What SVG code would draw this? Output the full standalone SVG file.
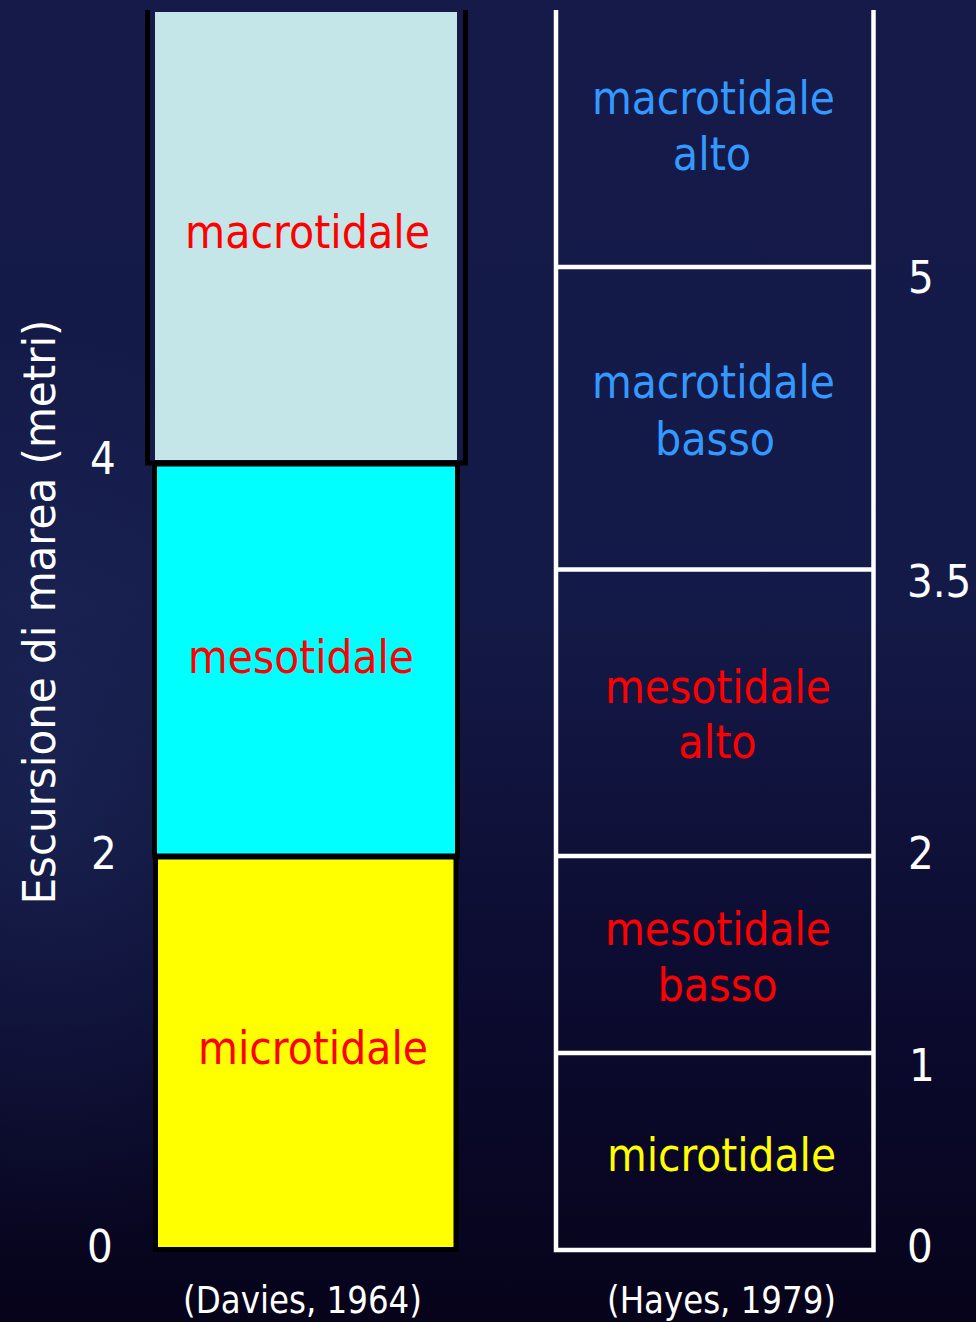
<svg xmlns="http://www.w3.org/2000/svg" width="976" height="1322" viewBox="0 0 976 1322">
  <defs>
    <linearGradient id="bg" x1="0" y1="0" x2="0" y2="1">
      <stop offset="0" stop-color="#151a48"/>
      <stop offset="0.45" stop-color="#141a48"/>
      <stop offset="0.75" stop-color="#0c0b30"/>
      <stop offset="1" stop-color="#06031a"/>
    </linearGradient>
    <radialGradient id="glow" cx="0.05" cy="0.6" r="0.35">
      <stop offset="0" stop-color="#223366" stop-opacity="0.45"/>
      <stop offset="1" stop-color="#223366" stop-opacity="0"/>
    </radialGradient>
  </defs>
  <style>
    text { font-family: "DejaVu Sans Condensed", "DejaVu Sans", "Liberation Sans", sans-serif; }
    .lbl { font-size: 46px; text-anchor: middle; }
    .num { font-size: 45px; fill: #ffffff; }
    .cap { font-size: 37px; fill: #ffffff; text-anchor: middle; }
    .red { fill: #ff0000; }
    .blue { fill: #3399ff; }
    .yel { fill: #ffff00; }
    .blk { fill: none; stroke: #000000; stroke-width: 5; }
    .wht { fill: none; stroke: #ffffff; stroke-width: 4.5; }
  </style>
  <rect x="0" y="0" width="976" height="1322" fill="url(#bg)"/>
  <rect x="0" y="0" width="976" height="1322" fill="url(#glow)"/>

  <g id="axis-title">
    <text class="num" transform="translate(55,612) rotate(-90)" text-anchor="middle" font-size="46" textLength="585" lengthAdjust="spacingAndGlyphs">Escursione di marea (metri)</text>
  </g>

  <g id="left-scale">
    <text class="num" x="90" y="474">4</text>
    <text class="num" x="91" y="869">2</text>
    <text class="num" x="87" y="1262">0</text>
  </g>

  <g id="davies-macro">
    <rect x="155" y="12" width="302" height="448" fill="#c4e6e8"/>
    <polyline class="blk" points="147.5,10 147.5,463 465.5,463 465.5,10"/>
    <text class="lbl red" x="307.5" y="248" textLength="245" lengthAdjust="spacingAndGlyphs">macrotidale</text>
  </g>
  <g id="davies-meso">
    <rect x="154.5" y="464" width="303" height="392" fill="#00ffff" stroke="#000000" stroke-width="5"/>
    <text class="lbl red" x="301" y="673" textLength="226" lengthAdjust="spacingAndGlyphs">mesotidale</text>
  </g>
  <g id="davies-micro">
    <rect x="155.5" y="857" width="300.5" height="392.5" fill="#ffff00" stroke="#000000" stroke-width="5"/>
    <text class="lbl red" x="313" y="1064" textLength="230" lengthAdjust="spacingAndGlyphs">microtidale</text>
  </g>
  <g id="davies-caption">
    <text class="cap" x="302.5" y="1313" textLength="239" lengthAdjust="spacingAndGlyphs">(Davies, 1964)</text>
  </g>

  <g id="hayes-frame">
    <polyline class="wht" points="556,10 556,1250 873.5,1250 873.5,10"/>
  </g>
  <g id="hayes-macro-alto">
    <line class="wht" x1="556" y1="267" x2="873.5" y2="267"/>
    <text class="lbl blue" x="713.5" y="114" textLength="243" lengthAdjust="spacingAndGlyphs">macrotidale</text>
    <text class="lbl blue" x="712" y="170">alto</text>
  </g>
  <g id="hayes-macro-basso">
    <line class="wht" x1="556" y1="569.5" x2="873.5" y2="569.5"/>
    <text class="lbl blue" x="713.5" y="398" textLength="243" lengthAdjust="spacingAndGlyphs">macrotidale</text>
    <text class="lbl blue" x="715" y="455">basso</text>
  </g>
  <g id="hayes-meso-alto">
    <line class="wht" x1="556" y1="856" x2="873.5" y2="856"/>
    <text class="lbl red" x="718" y="703" textLength="226" lengthAdjust="spacingAndGlyphs">mesotidale</text>
    <text class="lbl red" x="717.5" y="758">alto</text>
  </g>
  <g id="hayes-meso-basso">
    <line class="wht" x1="556" y1="1053" x2="873.5" y2="1053"/>
    <text class="lbl red" x="718" y="945" textLength="226" lengthAdjust="spacingAndGlyphs">mesotidale</text>
    <text class="lbl red" x="717.5" y="1001">basso</text>
  </g>
  <g id="hayes-micro">
    <text class="lbl yel" x="721.5" y="1171" textLength="229" lengthAdjust="spacingAndGlyphs">microtidale</text>
  </g>
  <g id="hayes-caption">
    <text class="cap" x="721.5" y="1313" textLength="229" lengthAdjust="spacingAndGlyphs">(Hayes, 1979)</text>
  </g>

  <g id="right-scale">
    <text class="num" x="908" y="293">5</text>
    <text class="num" x="907" y="597">3.5</text>
    <text class="num" x="908" y="869">2</text>
    <text class="num" x="909" y="1081">1</text>
    <text class="num" x="907" y="1262">0</text>
  </g>
</svg>
